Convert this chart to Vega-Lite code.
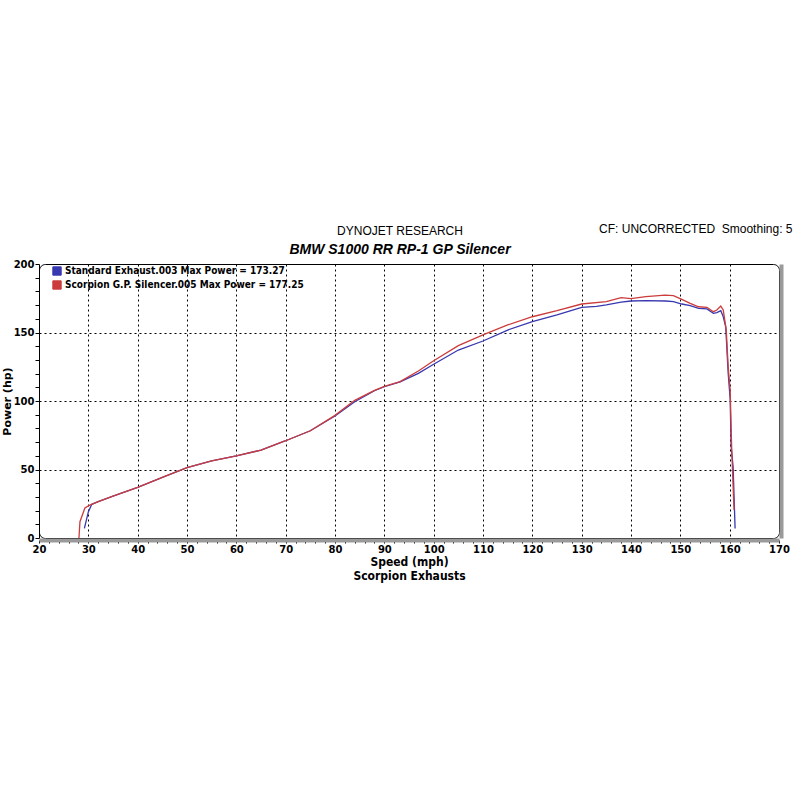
{
  "$schema": "https://vega.github.io/schema/vega-lite/v6.json",
  "width": 740,
  "height": 274,
  "autosize": {"type": "none"},
  "padding": {"left": 39, "top": 264, "right": 21, "bottom": 262},
  "background": "white",
  "config": {
    "view": {"stroke": "black", "strokeWidth": 1, "cornerRadius": 6}
  },
  "title": {
    "text": "DYNOJET RESEARCH",
    "subtitle": "BMW S1000 RR RP-1 GP Silencer",
    "anchor": "middle",
    "dx": -9,
    "offset": -36,
    "font": "Liberation Sans",
    "fontSize": 12,
    "fontWeight": "normal",
    "color": "black",
    "subtitleFont": "Liberation Sans",
    "subtitleFontSize": 14,
    "subtitleFontWeight": 900,
    "subtitleFontStyle": "italic",
    "subtitleColor": "black",
    "subtitlePadding": 5
  },
  "data": {
    "values": [
      {"series": "Standard Exhaust.003 Max Power = 173.27", "speed": 29.2, "power": 7},
      {"series": "Standard Exhaust.003 Max Power = 173.27", "speed": 29.6, "power": 13},
      {"series": "Standard Exhaust.003 Max Power = 173.27", "speed": 30.0, "power": 19},
      {"series": "Standard Exhaust.003 Max Power = 173.27", "speed": 30.7, "power": 24.6},
      {"series": "Standard Exhaust.003 Max Power = 173.27", "speed": 32, "power": 26.5},
      {"series": "Standard Exhaust.003 Max Power = 173.27", "speed": 35, "power": 30.5},
      {"series": "Standard Exhaust.003 Max Power = 173.27", "speed": 40, "power": 37},
      {"series": "Standard Exhaust.003 Max Power = 173.27", "speed": 45, "power": 44.3},
      {"series": "Standard Exhaust.003 Max Power = 173.27", "speed": 50, "power": 51.3},
      {"series": "Standard Exhaust.003 Max Power = 173.27", "speed": 55, "power": 56.3},
      {"series": "Standard Exhaust.003 Max Power = 173.27", "speed": 60, "power": 59.9},
      {"series": "Standard Exhaust.003 Max Power = 173.27", "speed": 65, "power": 64.2},
      {"series": "Standard Exhaust.003 Max Power = 173.27", "speed": 70, "power": 71},
      {"series": "Standard Exhaust.003 Max Power = 173.27", "speed": 75, "power": 78.3},
      {"series": "Standard Exhaust.003 Max Power = 173.27", "speed": 80, "power": 89},
      {"series": "Standard Exhaust.003 Max Power = 173.27", "speed": 84, "power": 99.5},
      {"series": "Standard Exhaust.003 Max Power = 173.27", "speed": 88, "power": 107.5},
      {"series": "Standard Exhaust.003 Max Power = 173.27", "speed": 90, "power": 110.4},
      {"series": "Standard Exhaust.003 Max Power = 173.27", "speed": 93.2, "power": 114},
      {"series": "Standard Exhaust.003 Max Power = 173.27", "speed": 96.9, "power": 120.2},
      {"series": "Standard Exhaust.003 Max Power = 173.27", "speed": 100, "power": 126.8},
      {"series": "Standard Exhaust.003 Max Power = 173.27", "speed": 105, "power": 137.2},
      {"series": "Standard Exhaust.003 Max Power = 173.27", "speed": 110, "power": 143.8},
      {"series": "Standard Exhaust.003 Max Power = 173.27", "speed": 115, "power": 151.8},
      {"series": "Standard Exhaust.003 Max Power = 173.27", "speed": 120, "power": 157.9},
      {"series": "Standard Exhaust.003 Max Power = 173.27", "speed": 125, "power": 162.8},
      {"series": "Standard Exhaust.003 Max Power = 173.27", "speed": 130, "power": 168.4},
      {"series": "Standard Exhaust.003 Max Power = 173.27", "speed": 133, "power": 169},
      {"series": "Standard Exhaust.003 Max Power = 173.27", "speed": 135, "power": 170.1},
      {"series": "Standard Exhaust.003 Max Power = 173.27", "speed": 138, "power": 172.1},
      {"series": "Standard Exhaust.003 Max Power = 173.27", "speed": 140, "power": 173},
      {"series": "Standard Exhaust.003 Max Power = 173.27", "speed": 143, "power": 173.27},
      {"series": "Standard Exhaust.003 Max Power = 173.27", "speed": 147, "power": 173},
      {"series": "Standard Exhaust.003 Max Power = 173.27", "speed": 148.6, "power": 172.5},
      {"series": "Standard Exhaust.003 Max Power = 173.27", "speed": 150.3, "power": 170.8},
      {"series": "Standard Exhaust.003 Max Power = 173.27", "speed": 152, "power": 169.6},
      {"series": "Standard Exhaust.003 Max Power = 173.27", "speed": 153.7, "power": 167.6},
      {"series": "Standard Exhaust.003 Max Power = 173.27", "speed": 155.4, "power": 167.2},
      {"series": "Standard Exhaust.003 Max Power = 173.27", "speed": 156.7, "power": 164},
      {"series": "Standard Exhaust.003 Max Power = 173.27", "speed": 157.4, "power": 164.5},
      {"series": "Standard Exhaust.003 Max Power = 173.27", "speed": 158.2, "power": 165.9},
      {"series": "Standard Exhaust.003 Max Power = 173.27", "speed": 158.7, "power": 161.5},
      {"series": "Standard Exhaust.003 Max Power = 173.27", "speed": 159.2, "power": 154.2},
      {"series": "Standard Exhaust.003 Max Power = 173.27", "speed": 159.7, "power": 120.2},
      {"series": "Standard Exhaust.003 Max Power = 173.27", "speed": 160.1, "power": 101.5},
      {"series": "Standard Exhaust.003 Max Power = 173.27", "speed": 160.3, "power": 66.6},
      {"series": "Standard Exhaust.003 Max Power = 173.27", "speed": 160.7, "power": 52},
      {"series": "Standard Exhaust.003 Max Power = 173.27", "speed": 161.1, "power": 7},
      {"series": "Scorpion G.P. Silencer.005 Max Power = 177.25", "speed": 28.1, "power": 0},
      {"series": "Scorpion G.P. Silencer.005 Max Power = 177.25", "speed": 28.3, "power": 11.9},
      {"series": "Scorpion G.P. Silencer.005 Max Power = 177.25", "speed": 29.3, "power": 21.9},
      {"series": "Scorpion G.P. Silencer.005 Max Power = 177.25", "speed": 30.3, "power": 24},
      {"series": "Scorpion G.P. Silencer.005 Max Power = 177.25", "speed": 32, "power": 26.5},
      {"series": "Scorpion G.P. Silencer.005 Max Power = 177.25", "speed": 35, "power": 30.5},
      {"series": "Scorpion G.P. Silencer.005 Max Power = 177.25", "speed": 40, "power": 37},
      {"series": "Scorpion G.P. Silencer.005 Max Power = 177.25", "speed": 45, "power": 44.3},
      {"series": "Scorpion G.P. Silencer.005 Max Power = 177.25", "speed": 50, "power": 51.3},
      {"series": "Scorpion G.P. Silencer.005 Max Power = 177.25", "speed": 55, "power": 56.3},
      {"series": "Scorpion G.P. Silencer.005 Max Power = 177.25", "speed": 60, "power": 59.9},
      {"series": "Scorpion G.P. Silencer.005 Max Power = 177.25", "speed": 65, "power": 64.2},
      {"series": "Scorpion G.P. Silencer.005 Max Power = 177.25", "speed": 70, "power": 71},
      {"series": "Scorpion G.P. Silencer.005 Max Power = 177.25", "speed": 75, "power": 78.3},
      {"series": "Scorpion G.P. Silencer.005 Max Power = 177.25", "speed": 80, "power": 89.5},
      {"series": "Scorpion G.P. Silencer.005 Max Power = 177.25", "speed": 84, "power": 100.5},
      {"series": "Scorpion G.P. Silencer.005 Max Power = 177.25", "speed": 88, "power": 107.8},
      {"series": "Scorpion G.P. Silencer.005 Max Power = 177.25", "speed": 90, "power": 110.6},
      {"series": "Scorpion G.P. Silencer.005 Max Power = 177.25", "speed": 93.2, "power": 114.1},
      {"series": "Scorpion G.P. Silencer.005 Max Power = 177.25", "speed": 96.9, "power": 121.9},
      {"series": "Scorpion G.P. Silencer.005 Max Power = 177.25", "speed": 100, "power": 129.4},
      {"series": "Scorpion G.P. Silencer.005 Max Power = 177.25", "speed": 105, "power": 140.4},
      {"series": "Scorpion G.P. Silencer.005 Max Power = 177.25", "speed": 110, "power": 148.2},
      {"series": "Scorpion G.P. Silencer.005 Max Power = 177.25", "speed": 115, "power": 155.5},
      {"series": "Scorpion G.P. Silencer.005 Max Power = 177.25", "speed": 120, "power": 161.5},
      {"series": "Scorpion G.P. Silencer.005 Max Power = 177.25", "speed": 125, "power": 165.9},
      {"series": "Scorpion G.P. Silencer.005 Max Power = 177.25", "speed": 130, "power": 170.8},
      {"series": "Scorpion G.P. Silencer.005 Max Power = 177.25", "speed": 135, "power": 172.5},
      {"series": "Scorpion G.P. Silencer.005 Max Power = 177.25", "speed": 138, "power": 175.4},
      {"series": "Scorpion G.P. Silencer.005 Max Power = 177.25", "speed": 140, "power": 174.7},
      {"series": "Scorpion G.P. Silencer.005 Max Power = 177.25", "speed": 143, "power": 176.2},
      {"series": "Scorpion G.P. Silencer.005 Max Power = 177.25", "speed": 145, "power": 176.8},
      {"series": "Scorpion G.P. Silencer.005 Max Power = 177.25", "speed": 146.9, "power": 177.25},
      {"series": "Scorpion G.P. Silencer.005 Max Power = 177.25", "speed": 148.6, "power": 176.9},
      {"series": "Scorpion G.P. Silencer.005 Max Power = 177.25", "speed": 150.3, "power": 174.2},
      {"series": "Scorpion G.P. Silencer.005 Max Power = 177.25", "speed": 152, "power": 171.3},
      {"series": "Scorpion G.P. Silencer.005 Max Power = 177.25", "speed": 153.7, "power": 168.8},
      {"series": "Scorpion G.P. Silencer.005 Max Power = 177.25", "speed": 155.4, "power": 168.4},
      {"series": "Scorpion G.P. Silencer.005 Max Power = 177.25", "speed": 156.7, "power": 165.2},
      {"series": "Scorpion G.P. Silencer.005 Max Power = 177.25", "speed": 157.4, "power": 166.4},
      {"series": "Scorpion G.P. Silencer.005 Max Power = 177.25", "speed": 158.2, "power": 169.3},
      {"series": "Scorpion G.P. Silencer.005 Max Power = 177.25", "speed": 158.7, "power": 166.4},
      {"series": "Scorpion G.P. Silencer.005 Max Power = 177.25", "speed": 159.3, "power": 152},
      {"series": "Scorpion G.P. Silencer.005 Max Power = 177.25", "speed": 159.7, "power": 125},
      {"series": "Scorpion G.P. Silencer.005 Max Power = 177.25", "speed": 160.1, "power": 108},
      {"series": "Scorpion G.P. Silencer.005 Max Power = 177.25", "speed": 160.4, "power": 66.6},
      {"series": "Scorpion G.P. Silencer.005 Max Power = 177.25", "speed": 160.8, "power": 27.7},
      {"series": "Scorpion G.P. Silencer.005 Max Power = 177.25", "speed": 160.9, "power": 20.4}
    ]
  },
  "layer": [
    {
      "mark": {"type": "line", "strokeWidth": 1.3},
      "encoding": {
        "x": {
          "field": "speed",
          "type": "quantitative",
          "scale": {"domain": [20, 170], "nice": false, "zero": false},
          "axis": {
            "values": [20,22,24,26,28,30,32,34,36,38,40,42,44,46,48,50,52,54,56,58,60,62,64,66,68,70,72,74,76,78,80,82,84,86,88,90,92,94,96,98,100,102,104,106,108,110,112,114,116,118,120,122,124,126,128,130,132,134,136,138,140,142,144,146,148,150,152,154,156,158,160,162,164,166,168,170],
            "labelExpr": "datum.value % 10 == 0 ? datum.label : ''",
            "labelOverlap": false,
            "labelFlush": false,
            "grid": true,
            "gridColor": "black",
            "gridDash": [2, 3],
            "gridWidth": 1,
            "gridOpacity": {"condition": {"test": "datum.value % 10 == 0 && datum.value > 20 && datum.value < 170", "value": 1}, "value": 0},
            "offset": 2,
            "tickSize": 3,
            "tickColor": "black",
            "domainColor": "#9a9a9a",
            "domainWidth": 4,
            "labelFont": "DejaVu Sans",
            "labelFontWeight": "bold",
            "labelFontSize": 10,
            "labelColor": "black",
            "labelPadding": 1,
            "title": ["Speed (mph)", "Scorpion Exhausts"],
            "titleFont": "DejaVu Sans Condensed, Liberation Sans",
            "titleFontWeight": "bold",
            "titleFontSize": 12,
            "titleColor": "black",
            "titleLineHeight": 14,
            "titlePadding": 2
          }
        },
        "y": {
          "field": "power",
          "type": "quantitative",
          "scale": {"domain": [0, 200], "nice": false},
          "axis": {
            "values": [0,10,20,30,40,50,60,70,80,90,100,110,120,130,140,150,160,170,180,190,200],
            "labelExpr": "datum.value % 50 == 0 ? datum.label : ''",
            "labelOverlap": false,
            "labelFlush": false,
            "grid": true,
            "gridColor": "black",
            "gridDash": [2, 3],
            "gridWidth": 1,
            "gridOpacity": {"condition": {"test": "datum.value % 50 == 0 && datum.value > 0 && datum.value < 200", "value": 1}, "value": 0},
            "tickSize": 4,
            "tickColor": "black",
            "domainColor": "black",
            "labelFont": "DejaVu Sans",
            "labelFontWeight": "bold",
            "labelFontSize": 10,
            "labelColor": "black",
            "labelPadding": 1,
            "title": "Power (hp)",
            "titleFont": "DejaVu Sans",
            "titleFontWeight": "bold",
            "titleFontSize": 11,
            "titleColor": "black",
            "titlePadding": 1
          }
        },
        "color": {
          "field": "series",
          "type": "nominal",
          "sort": ["Standard Exhaust.003 Max Power = 173.27", "Scorpion G.P. Silencer.005 Max Power = 177.25"],
          "scale": {
            "domain": ["Standard Exhaust.003 Max Power = 173.27", "Scorpion G.P. Silencer.005 Max Power = 177.25"],
            "range": ["#3838b0", "#cc3c3c"]
          },
          "legend": {
            "orient": "none",
            "legendX": 13,
            "legendY": 2,
            "title": null,
            "symbolType": "square",
            "symbolSize": 70,
            "symbolStrokeWidth": 1,
            "symbolStrokeColor": "black",
            "labelFont": "DejaVu Sans Condensed, Liberation Sans",
            "labelFontWeight": "bold",
            "labelFontSize": 10,
            "labelColor": "black",
            "labelLimit": 500,
            "labelOffset": 3,
            "rowPadding": 0,
            "encode": {
              "symbols": {"update": {"fill": {"scale": "color", "field": "value"}, "fillOpacity": {"value": 1}, "stroke": {"value": "black"}}}
            }
          }
        }
      }
    },
    {
      "mark": {"type": "rule", "opacity": 0},
      "encoding": {
        "x": {
          "datum": 20,
          "type": "quantitative",
          "axis": {
            "orient": "top",
            "title": "CF: UNCORRECTED\u00a0 Smoothing: 5",
            "labels": false,
            "ticks": false,
            "domain": false,
            "grid": false,
            "titleAnchor": "end",
            "titleAlign": "right",
            "titleBaseline": "alphabetic",
            "titleX": 753,
            "titleY": -32,
            "titleFont": "Liberation Sans",
            "titleFontSize": 12,
            "titleFontWeight": "normal",
            "titleColor": "black"
          }
        }
      }
    },
    {
      "mark": {"type": "rule", "opacity": 0},
      "encoding": {
        "y": {
          "datum": 0,
          "type": "quantitative",
          "axis": {
            "orient": "right",
            "title": null,
            "labels": false,
            "ticks": false,
            "grid": false,
            "offset": 2,
            "domainColor": "#9a9a9a",
            "domainWidth": 4
          }
        }
      }
    }
  ],
  "resolve": {"axis": {"x": "independent", "y": "independent"}}
}
